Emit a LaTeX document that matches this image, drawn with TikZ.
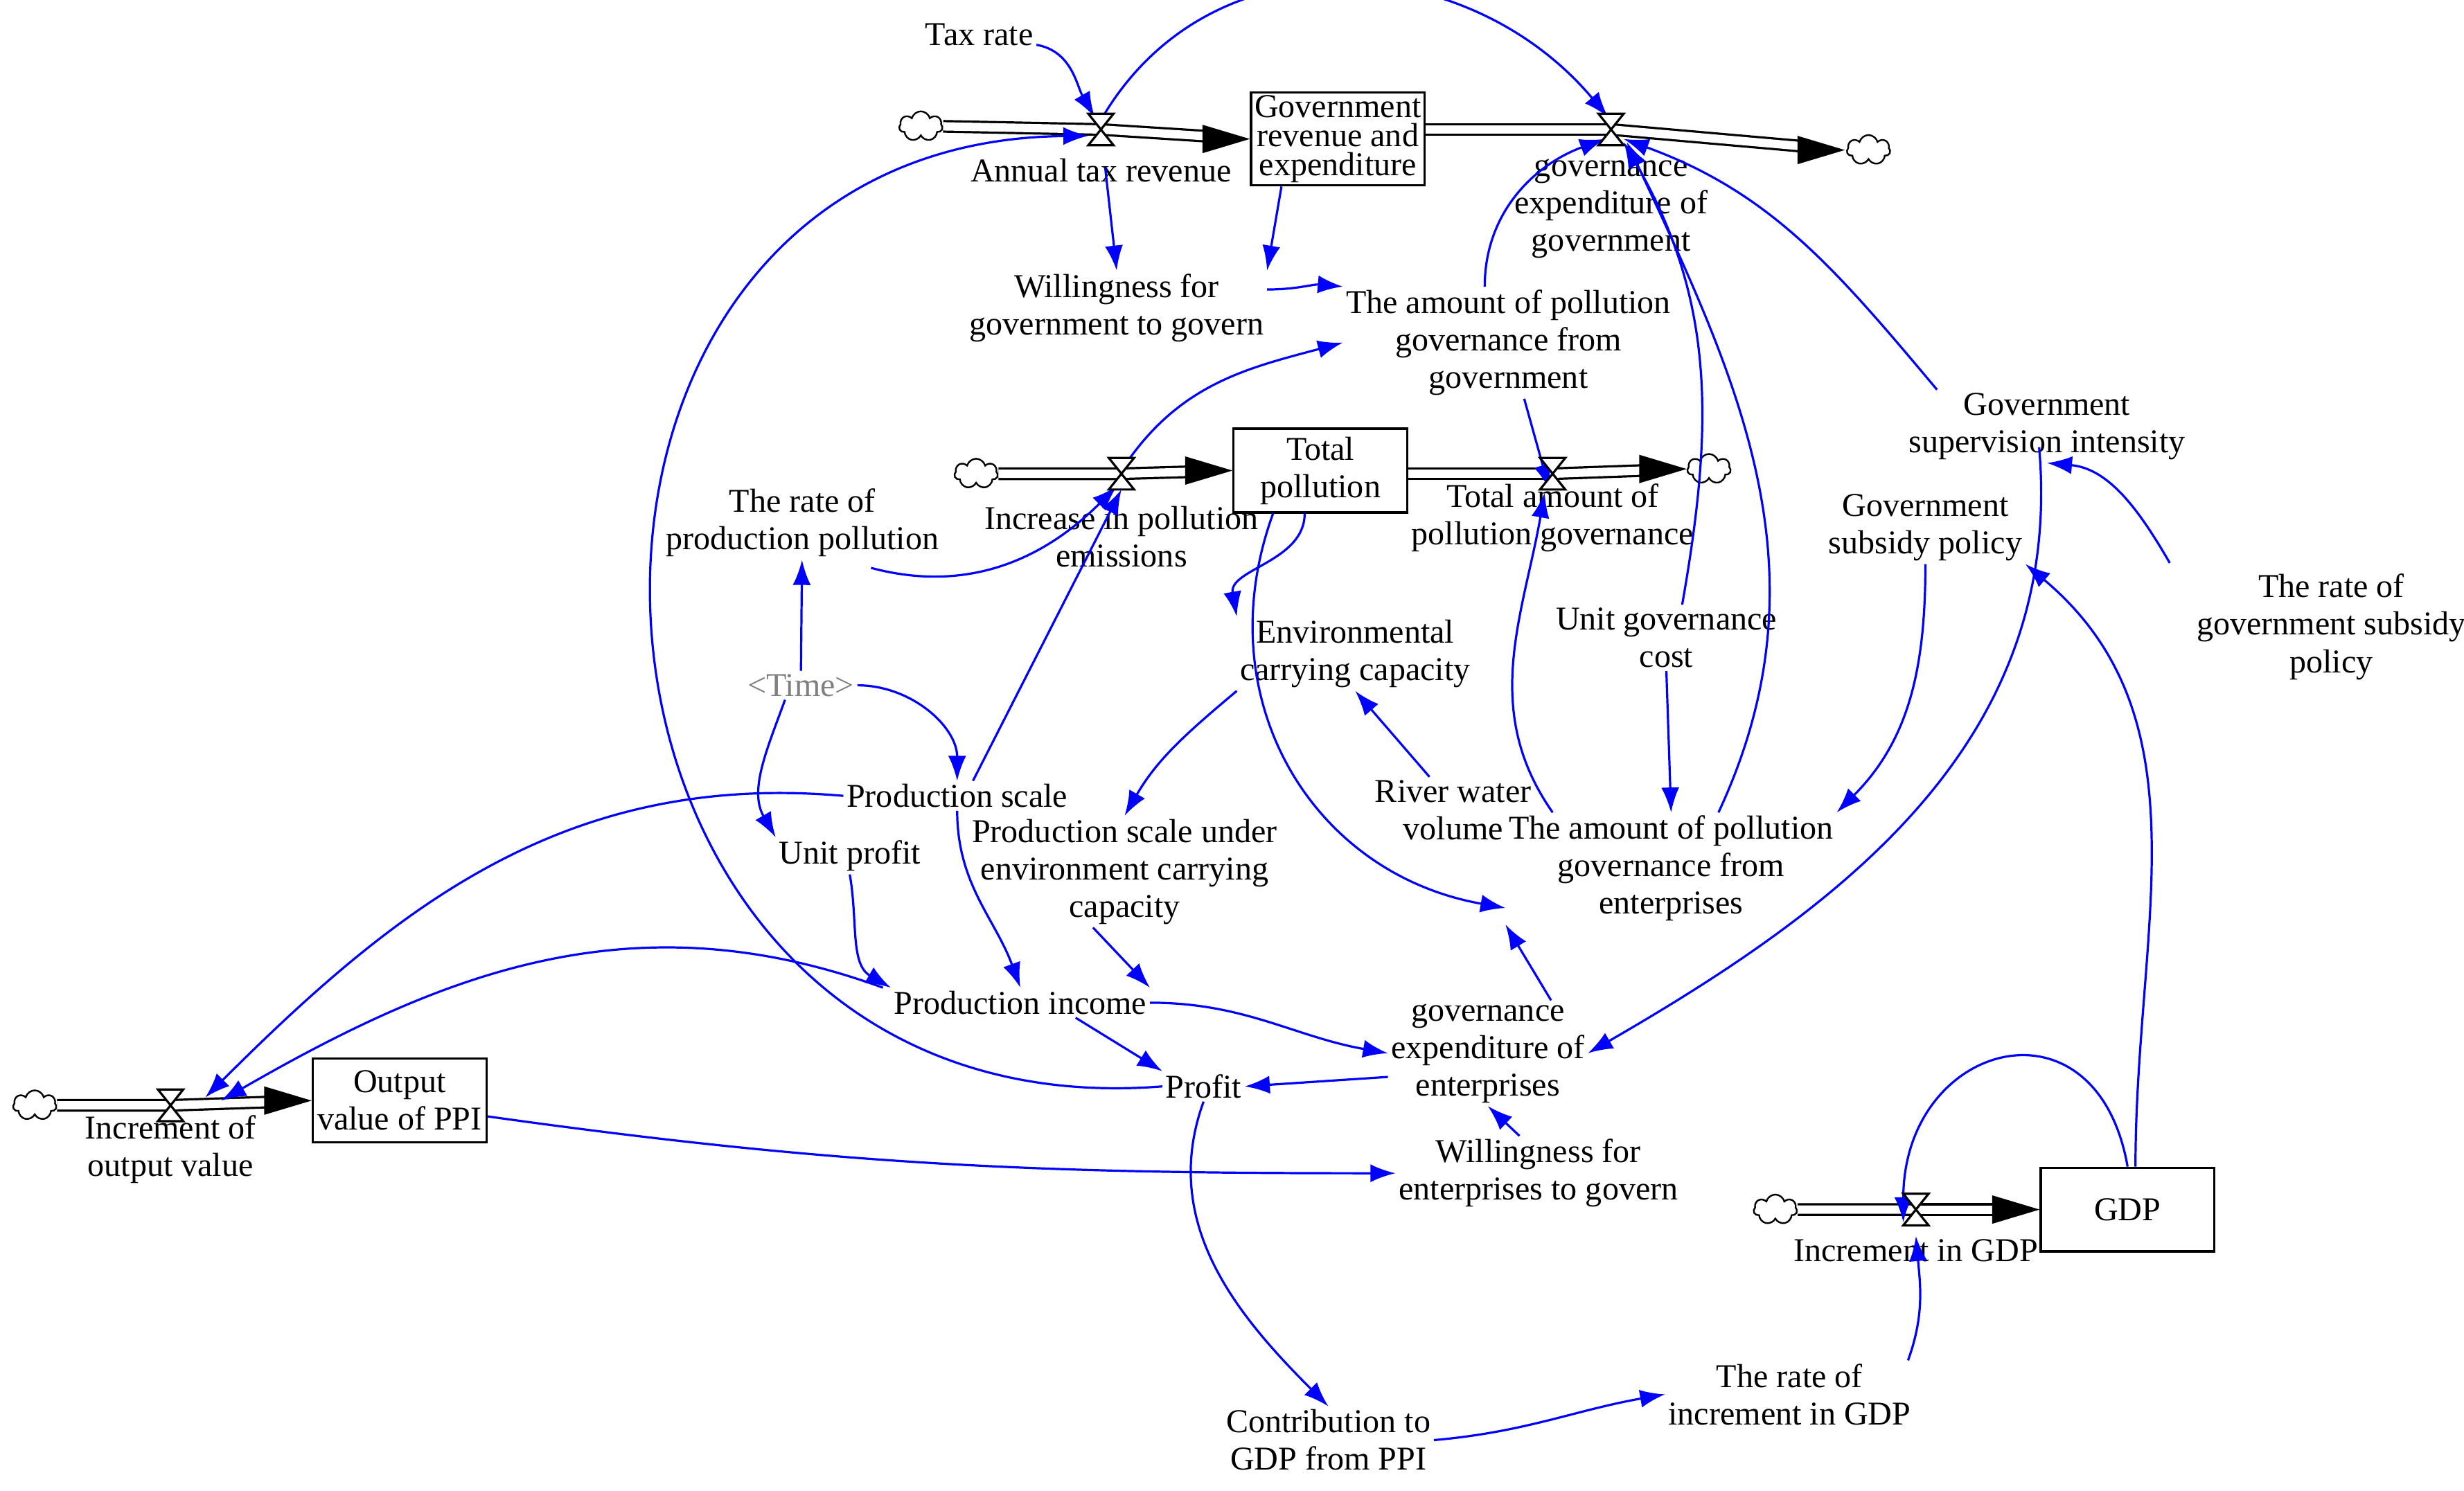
\documentclass[tikz,border=0pt]{standalone}
\usepackage{fontspec}
\setmainfont{Liberation Serif}
\usetikzlibrary{arrows.meta,shapes.symbols,calc}
\begin{document}
\begin{tikzpicture}[x=0.02cm,y=0.02cm,
  v/.style={align=center,inner sep=1pt,font=\fontsize{12}{13.5}\selectfont},
  box/.style={v,draw,line width=0.8pt,minimum width=2.2cm,minimum height=1.06cm},
  lk/.style={blue,line width=0.8pt,-{Latex[length=9pt,width=6.5pt]}},
  pipe/.style={double=white,double distance=3pt,line width=0.8pt},
  cl/.style={cloud,cloud puffs=7,draw,line width=0.6pt,minimum width=0.55cm,minimum height=0.38cm,inner sep=0pt}]
\useasboundingbox (0,0) rectangle (1560,-944);
\newcommand\valve[1]{\draw[fill=white,line width=0.8pt] ($(#1)+(-8,10)$)--($(#1)+(8,10)$)--($(#1)+(-8,-10)$)--($(#1)+(8,-10)$)--cycle;}
% stocks
\node[box] (gb) at (847,-88) {Government\\[-3pt]revenue and\\[-3pt]expenditure};
\node[box] (tp) at (836,-298) {Total\\pollution};
\node[box] (ov) at (253,-697) {Output\\value of PPI};
\node[box] (gdp) at (1347,-766) {GDP};
% clouds
\node[cl] (c1) at (583,-80) {};
\node[cl] (c2) at (1183,-95) {};
\node[cl] (c3) at (618,-300) {};
\node[cl] (c4) at (1082,-297) {};
\node[cl] (c5) at (22,-700) {};
\node[cl] (c6) at (1124,-766) {};
% valves
\coordinate (tv) at (697,-82);
\coordinate (gv) at (1020,-82);
\coordinate (iv) at (710,-300);
\coordinate (pv) at (983,-300);
\coordinate (ov1) at (108,-700);
\coordinate (gdv) at (1213,-766);
% pipes
\draw[pipe] (c1.east) -- (tv); \draw[pipe,shorten >=14pt] (tv) -- (gb.west);
\fill (gb.west) -- ++(-30,9) -- ++(0,-18) -- cycle;
\draw[pipe] (gb.east|-gv) -- (gv); \draw[pipe,shorten >=14pt] (gv) -- (1168,-95);
\fill (1168,-95) -- ++(-30,9) -- ++(0,-18) -- cycle;
\draw[pipe] (c3.east) -- (iv); \draw[pipe,shorten >=14pt] (iv) -- (tp.west);
\fill (tp.west) -- ++(-30,9) -- ++(0,-18) -- cycle;
\draw[pipe] (tp.east|-pv) -- (pv); \draw[pipe,shorten >=14pt] (pv) -- (c4.west);
\fill (c4.west) -- ++(-30,9) -- ++(0,-18) -- cycle;
\draw[pipe] (c5.east) -- (ov1); \draw[pipe,shorten >=14pt] (ov1) -- (ov.west);
\fill (ov.west) -- ++(-30,9) -- ++(0,-18) -- cycle;
\draw[pipe] (c6.east) -- (gdv); \draw[pipe,shorten >=14pt] (gdv) -- (gdp.west);
\fill (gdp.west) -- ++(-30,9) -- ++(0,-18) -- cycle;
% variables
\node[v] (tax) at (620,-22) {Tax rate};
\node[v] (atr) at (697,-108) {Annual tax revenue};
\node[v] (geg) at (1020,-132) {governance\\expenditure of\\government};
\node[v] (wg) at (707,-195) {Willingness for\\government to govern};
\node[v] (ag) at (955,-217) {The amount of pollution\\governance from\\government};
\node[v] (ipe) at (710,-340) {Increase in pollution\\emissions};
\node[v] (tap) at (983,-328) {Total amount of\\pollution governance};
\node[v] (rpp) at (508,-331) {The rate of\\production pollution};
\node[v,text=gray] (time) at (507,-434) {<Time>};
\node[v] (ecc) at (858,-414) {Environmental\\carrying capacity};
\node[v] (ugc) at (1055,-404) {Unit governance\\cost};
\node[v] (gsi) at (1296,-270) {Government\\supervision intensity};
\node[v] (gsp) at (1219,-334) {Government\\subsidy policy};
\node[v] (rgs) at (1476,-397) {The rate of\\government subsidy\\policy};
\node[v] (rw) at (920,-513) {River water\\volume};
\node[v] (ps) at (606,-504) {Production scale};
\node[v] (up) at (538,-542) {Unit profit};
\node[v] (psu) at (712,-552) {Production scale under\\environment carrying\\capacity};
\node[v] (ae) at (1058,-550) {The amount of pollution\\governance from\\enterprises};
\node[v] (pi) at (646,-635) {Production income};
\node[v] (gee) at (942,-667) {governance\\expenditure of\\enterprises};
\node[v] (pr) at (762,-688) {Profit};
\node[v] (iov) at (108,-728) {Increment of\\output value};
\node[v] (we) at (974,-743) {Willingness for\\enterprises to govern};
\node[v] (igdp) at (1213,-792) {Increment in GDP};
\node[v] (cg) at (841,-912) {Contribution to\\GDP from PPI};
\node[v] (rig) at (1133,-883) {The rate of\\increment in GDP};
% links
\draw[lk] (tax) to[out=-10,in=120] ($(tv)+(-4,8)$);
\draw[lk,shorten <=14pt] (tv) -- (wg.north);
\draw[lk] (gb.south west)++(20,0) -- (wg.north east);
\draw[lk] (wg.north east)++(0,-12) to[out=0,in=175] (ag.north west);
\draw[lk] ($(tv)+(0,6)$) to[out=60,in=130,looseness=1.1] ($(gv)+(-2,8)$);
\draw[lk] (ag.north)++(-15,0) to[out=90,in=200] ($(gv)+(-4,-6)$);
\draw[lk] (ag.south)++(10,0) -- ($(pv)+(-2,-10)$);
\draw[lk] (rpp.south east)++(-45,-5) to[out=-15,in=225] ($(iv)+(-3,-8)$);
\draw[lk] (ps.north)++(10,0) -- ($(iv)+(0,-10)$);
\draw[lk] ($(iv)+(4,8)$) to[out=55,in=195] (ag.west);
\draw[lk] (tp.south)++(-10,0) to[out=-90,in=100] (ecc.north west);
\draw[lk] (tp.south)++(-30,0) to[out=-110,in=170,looseness=1.1] ($(ae.west)+(0,-25)$);
\draw[lk] (rw.north)++(-15,0) -- (ecc.south);
\draw[lk] (ecc.south west) to[out=220,in=60] (psu.north);
\draw[lk] (time) -- (rpp);
\draw[lk] (time.east) to[out=0,in=90] (ps.north);
\draw[lk] (time.south)++(-10,0) to[out=-110,in=120] (up.north west);
\draw[lk] (up.south) to[out=-80,in=150] (pi.north west);
\draw[lk] (ps.south) to[out=-90,in=110] (pi.north);
\draw[lk] (psu.south)++(-20,0) -- (pi.north east);
\draw[lk] (ps.west) to[out=175,in=45] ($(ov1)+(22,5)$);
\draw[lk] (pi.north west)++(-5,0) to[out=160,in=30] ($(ov1)+(32,3)$);
\draw[lk] (pi.south)++(35,0) -- (pr.north west);
\draw[lk] (pi.east) to[out=0,in=170] (gee.west);
\draw[lk] (gee.west)++(0,-15) -- (pr.east);
\draw[lk] (gee.north)++(40,0) -- (ae.south west);
\draw[lk] (we.north)++(-12,0) -- (gee.south);
\draw[lk] (ov.east)++(0,-10) to[out=-8,in=180] (we.west);
\draw[lk] (pr.south) to[out=-110,in=135] (cg.north);
\draw[lk] (cg.east) to[out=5,in=190] (rig.west);
\draw[lk] (rig.north)++(75,0) to[out=70,in=-85] (igdp.north);
\draw[lk] (gdp.north) to[out=100,in=90,looseness=2] ($(gdv)+(-8,-8)$);
\draw[lk] (gdp.north)++(5,0) to[out=90,in=-40] (gsp.south east);
\draw[lk] (rgs.north west)++(-15,5) to[out=120,in=-5] (gsi.south);
\draw[lk] (gsi.north west)++(20,0) to[out=130,in=-20] ($(gv)+(8,-6)$);
\draw[lk] (gsi.south)++(-5,10) to[out=-85,in=30] (gee.east);
\draw[lk] (gsp.south) to[out=-90,in=45] (ae.north east);
\draw[lk] (ugc.south) -- (ae.north);
\draw[lk] (ugc.north)++(10,0) to[out=80,in=-60] ($(gv)+(8,-8)$);
\draw[lk] (ae.north)++(30,0) to[out=65,in=-65] ($(gv)+(10,-8)$);
\draw[lk] (ae.north)++(-75,0) to[out=125,in=-100] ($(pv)+(-5,-12)$);
\draw[lk] (pr.west) .. controls (330,-720) and (300,-90) .. ($(tv)+(-8,-4)$);
% valve symbols on top
\valve{tv}\valve{gv}\valve{iv}\valve{pv}\valve{ov1}\valve{gdv}
\end{tikzpicture}
\end{document}
